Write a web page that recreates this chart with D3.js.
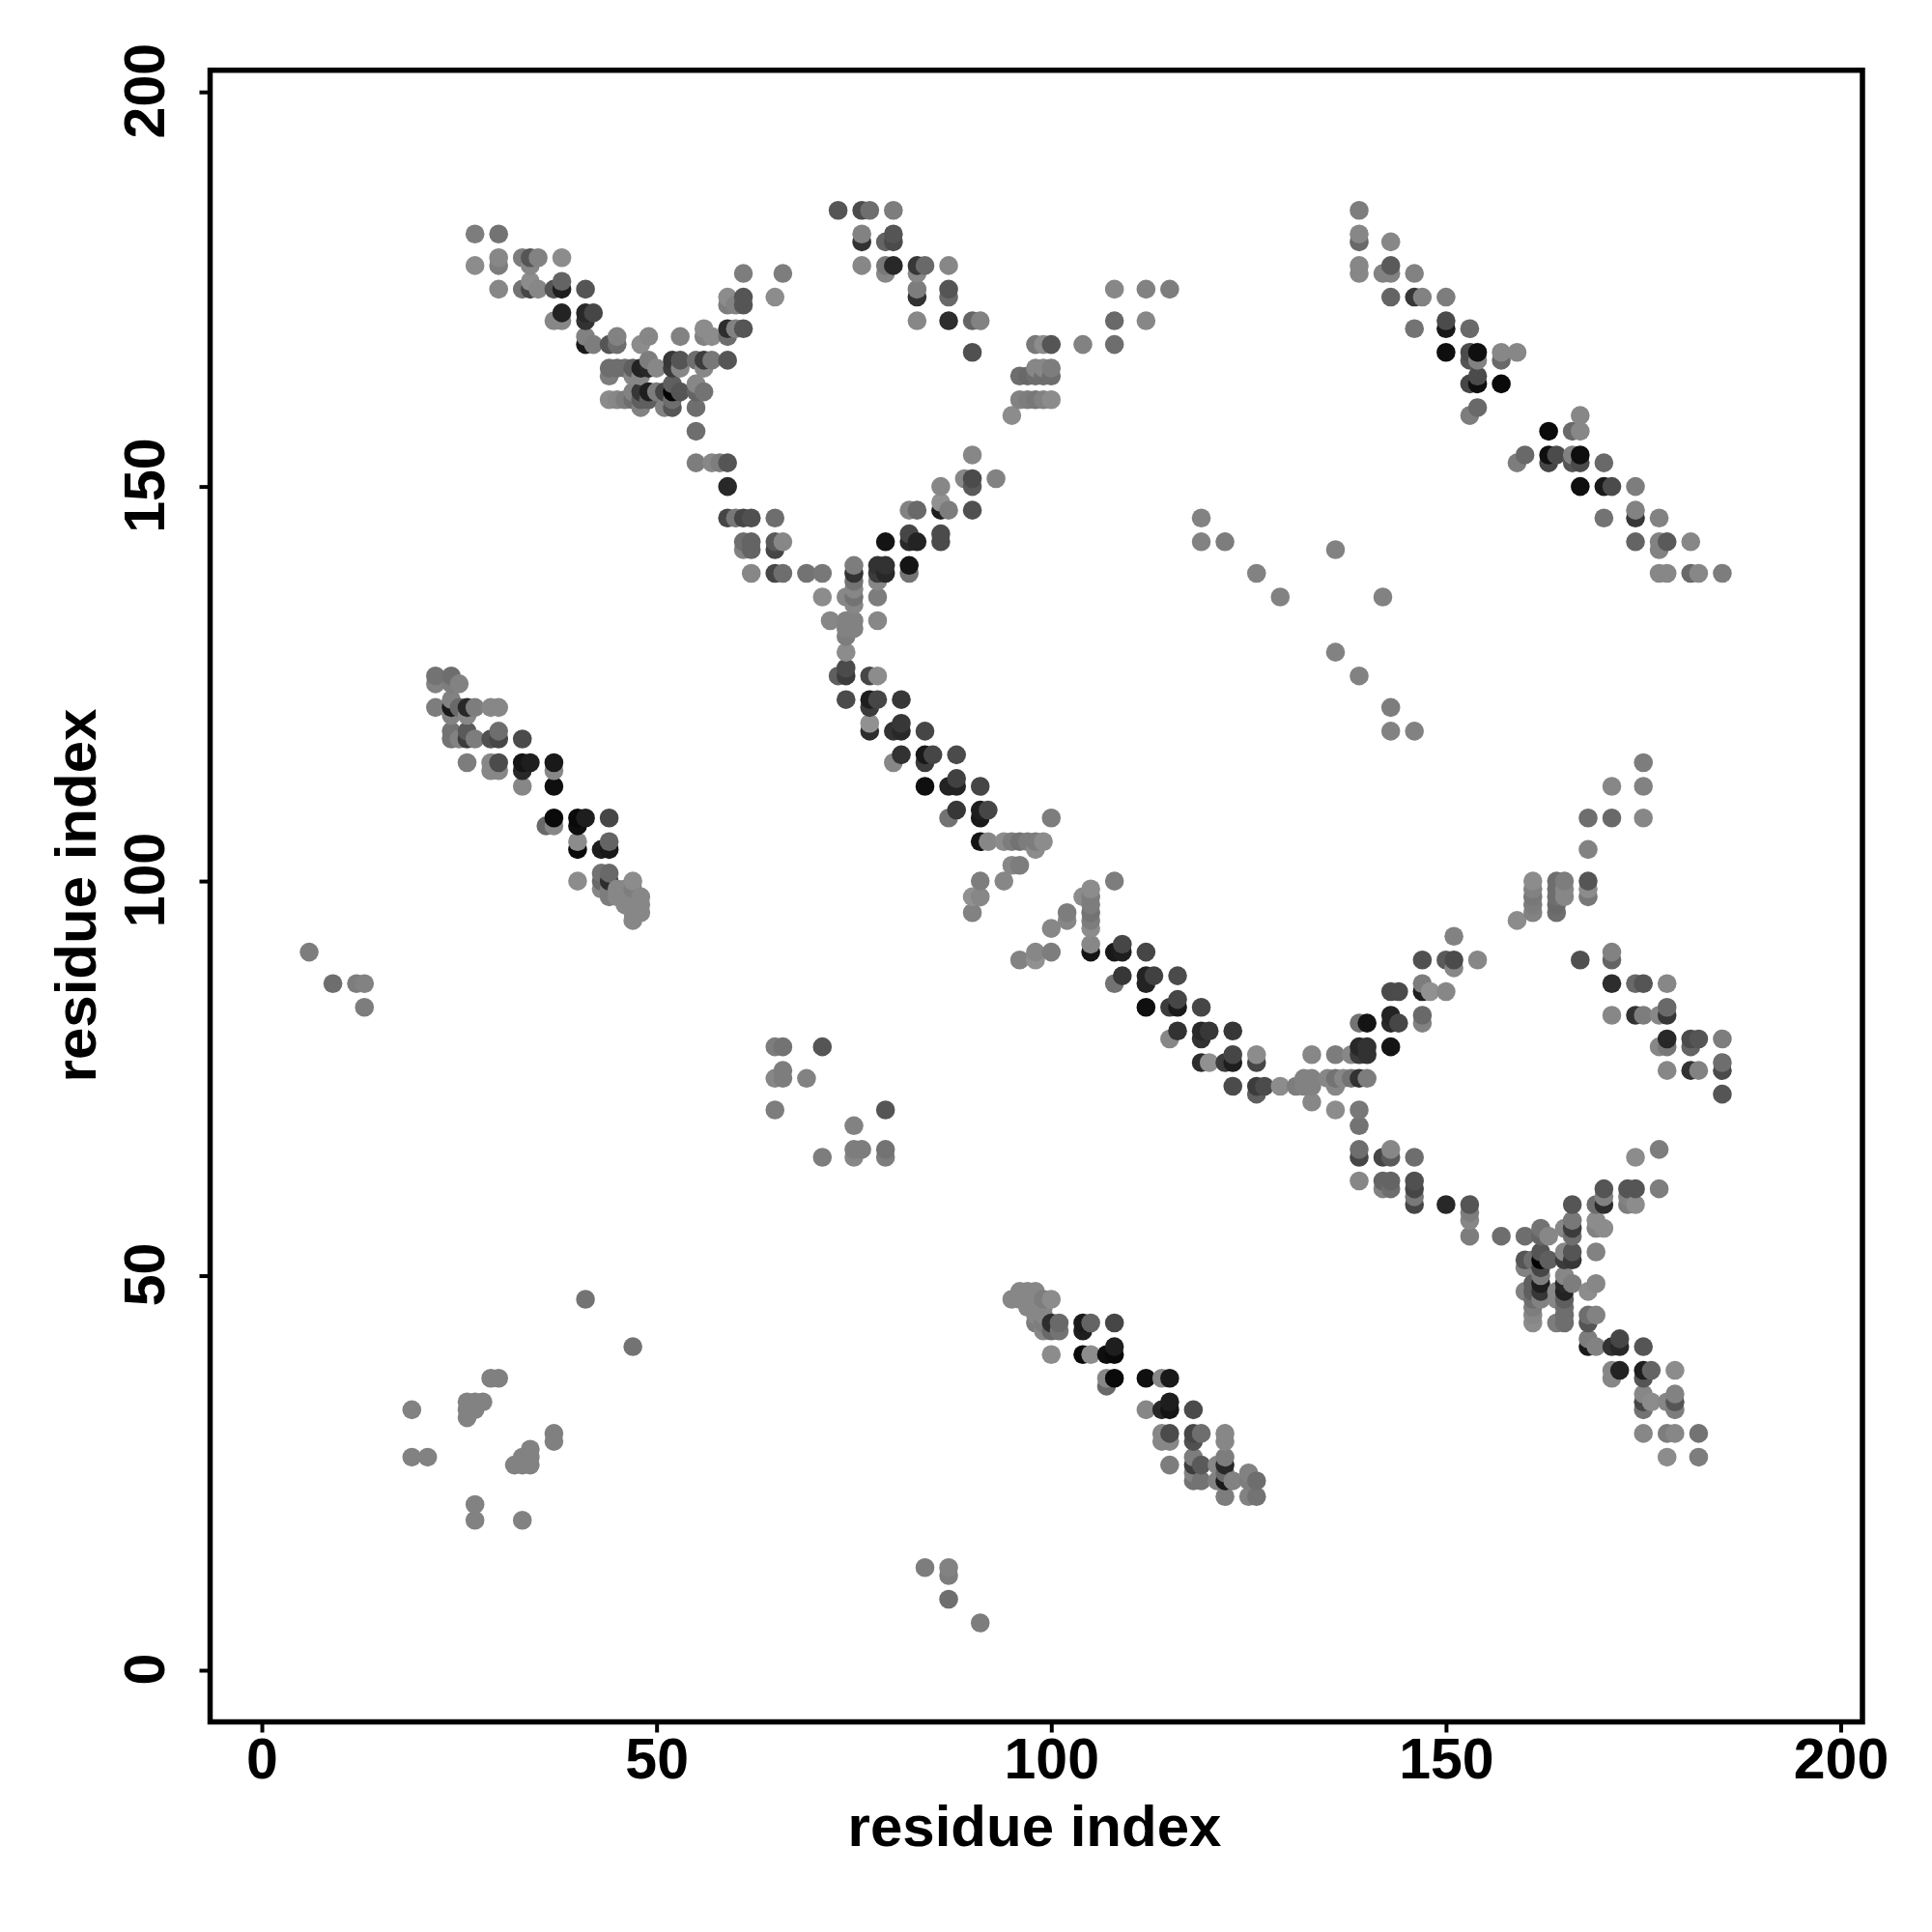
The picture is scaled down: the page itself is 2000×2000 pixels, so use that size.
<!DOCTYPE html>
<html>
<head>
<meta charset="utf-8">
<script src="https://cdn.jsdelivr.net/npm/d3@7"></script>
<style>
html,body{margin:0;padding:0;background:#fff}
svg{display:block}
text{font-family:"Liberation Sans",Arial,sans-serif;font-weight:700;fill:#000}
</style>
</head>
<body>
<svg id="chart" width="2000" height="2000"></svg>
<script>
// Each entry is [residue i, residue j, grey level] with i > j.
// The contact map is symmetric, so each entry also stands for its mirror pair (j, i).
const farContacts = [[91,6,125],[87,9,110],[87,12,125],[87,13,130],[84,13,125]];
const smallLoop = [[47,41,115],[33,19,130],[27,19,130],[27,21,130],[37,29,128],[37,30,128],[34,26,130],[34,27,130],[34,28,130],[33,26,130],[33,27,130],[32,26,130]];
const midPatch = [[71,65,125],[75,69,130],[75,66,125],[75,65,135],[76,66,125],[79,71,85],[79,66,115],[79,65,125]];
const sparsePatch = [[146,119,130],[143,119,130],[143,122,125],[139,126,130],[136,129,130],[142,136,130]];
const sheetA = [[95,47,135],[96,48,135],[97,48,135],[98,48,135],[96,47,135],[97,47,135],[98,47,135],[99,47,125],[100,47,140],
 [97,46,135],[98,46,135],[99,46,135],[98,45,135],[99,45,135],[98,44,125],[99,44,125],[100,44,45],[101,44,105],[99,43,135],[100,43,105],[101,43,115],
 [104,44,25],[105,44,100],[108,44,70],[104,43,30],[100,40,140],[104,40,10],[105,40,140],[107,40,15],[108,41,30],[108,40,10],
 [107,37,135],[108,37,10],[107,36,105],[112,37,15],[114,37,135],[115,37,25],[112,33,135],[114,33,40],[115,34,30],[115,33,20],[118,33,75],
 [114,30,135],[115,30,75],[114,29,135],[115,29,135],[118,30,70],[119,30,110],[118,29,80],[122,30,135],[122,29,135],
 [115,26,125],[118,27,125],[118,26,60],[119,26,90],[118,25,130],[118,24,115],[119,24,115],[121,26,135],[122,27,125],[122,26,40],[122,25,105],[122,24,25],[121,24,130],[123,24,130],[122,22,125],
 [125,25,130],[126,24,110],[125,24,125],[125,22,130],[126,22,115]];
const strandOne = [[96,90,130],[98,91,135],[98,90,145],[100,91,125],[100,94,135],[102,96,125],[102,95,135],[104,98,140],[105,99,140],[105,98,125],[105,97,125],[105,96,115],[105,95,125],[105,94,140],[105,92,135],[105,91,20],
 [108,100,125],[108,91,25],[109,91,30],[109,92,70],[112,91,70],[108,87,115],[109,88,55],[112,88,35],[112,87,35],[113,88,65],[116,88,75],[112,84,15],[115,84,60],[116,84,25],[116,85,70],[119,84,70],
 [115,80,135],[116,81,50],[119,81,40],[119,80,50],[120,81,55],[123,81,55],[119,77,45],[120,77,145],[122,77,60],[123,78,70],[123,77,30],[126,78,140],[126,77,70],[123,74,75],[126,74,60],[126,73,95],[127,74,75],[129,74,140]];
const strandTwo = [[131,74,125],[132,74,130],[133,74,130],[136,74,135],[132,75,130],[133,75,130],[135,75,135],[136,75,115],[137,75,135],[138,75,115],[139,75,50],[140,75,125],
 [133,72,135],[136,71,140],[139,71,120],[139,69,115],[133,78,135],[136,78,125],[138,78,135],[139,78,60],[140,78,50],[139,79,40],[140,79,50],[143,79,20],
 [139,82,115],[140,82,20],[143,82,40],[144,82,70],[147,82,130],[143,83,35],[147,83,105],[143,86,75],[144,86,75],[147,86,30],[148,86,145],[150,86,135],[147,87,125],
 [147,90,80],[150,90,90],[151,90,75],[154,90,135],[151,89,135],[151,93,130],[159,95,140],
 [161,100,140],[161,99,130],[161,98,120],[161,97,125],[161,96,130],[164,100,110],[164,99,110],[164,98,110],[164,97,105],[164,96,110],[165,100,125],[165,99,135],[165,98,135],
 [168,100,85],[168,99,140],[168,98,120],[168,104,130],[168,108,110],[171,108,105],[175,108,135],[171,112,135],[175,112,130],[175,115,125]];
const sheetC = [[167,90,80],[171,91,130],[171,90,100],[171,87,45],[174,87,105],[175,87,85],[178,87,135],[171,83,135],[174,83,50],[175,83,125],[177,83,135],[178,84,105],[178,83,55],
 [178,80,40],[177,79,135],[178,79,120],[181,80,75],[182,80,85],[181,79,100],[185,80,125],[178,76,135],[181,76,50],[182,76,130],[185,77,110],[185,76,75],[185,73,85]];
const sheetB = [[139,66,110],[139,65,70],[142,65,70],[143,66,135],[143,65,90],[146,65,110],[139,62,135],[142,62,100],[143,62,100],[142,61,130],[143,61,110],[146,62,80],[146,61,70],[146,60,120],[146,59,70],[150,59,40],[153,59,85],[153,58,125],[153,57,135],[153,55,125],[157,55,110],[160,55,110],[162,56,115],[162,55,100],[163,55,135],
 [160,52,85],[160,51,130],[161,52,110],[162,53,85],[162,52,5],[162,51,70],[162,50,125],[163,52,95],[160,48,130],[161,49,95],[161,48,95],[161,47,110],[161,46,125],[161,45,135],[161,44,140],[162,49,30],[162,48,55],[162,47,130],
 [165,53,135],[166,53,85],[165,52,60],[166,52,55],[165,56,135],[166,57,120],[166,56,60],[166,55,110],[166,59,85],[165,50,135],[166,49,125],[165,49,40],[165,48,35],[165,47,95],[165,46,110],[165,45,110],[165,44,110],[164,44,125],[164,48,135],[164,47,135],
 [169,56,130],[169,57,140],[170,56,140],[169,59,110],[170,61,85],[170,60,130],[170,59,45],[169,53,130],[169,49,135],[168,48,140],[173,61,85],[174,61,85],[173,59,125],[174,59,140],[173,60,130],[177,61,125],[174,65,140],[177,66,125],[168,45,110],[168,44,85],[169,45,130],[168,42,125],[168,41,25],[169,41,130],
 [171,41,50],[172,42,70],[172,41,40],[175,41,85],[171,38,135],[172,38,35],[171,37,135],[175,38,30],[175,37,85],[176,38,100],[179,38,140],[175,35,135],[176,34,140],[175,34,70],[175,33,115],[178,34,135],[179,35,130],[179,34,85],[179,33,125],[175,30,135],[178,30,125],[179,30,135],[182,30,115],[178,27,140],[182,27,125]];
const sheetD = [[185,139,125],[182,139,135],[181,139,105],[178,139,135],[177,139,135],[181,143,135],[178,143,90],[177,143,130],[174,143,100],[177,142,130],[177,146,130],[174,146,55],[170,146,115],[174,147,130],[174,150,125],[171,150,75],[170,150,25],[167,150,15],[170,153,105],[167,153,75],[166,153,85],[163,153,70],[159,153,125],[167,154,15],[166,154,130],[164,154,75],[163,154,15],[160,154,105],[167,157,135],[166,157,105],[163,157,10],[167,159,135]];

const tickValues = [0, 50, 100, 150, 200];
const axisTitle = "residue index";
const axisLimits = [-6.55, 202.75];

const svg = d3.select("#chart");
const frame = {left: 217.5, right: 1928, top: 72.7, bottom: 1782.5};
const x = d3.scaleLinear().domain(axisLimits).range([frame.left, frame.right]);
const y = d3.scaleLinear().domain(axisLimits).range([frame.bottom, frame.top]);

const halfMap = [].concat(farContacts, smallLoop, midPatch, sparsePatch, sheetA, strandOne, strandTwo, sheetC, sheetB, sheetD);
const contacts = halfMap.flatMap(([i, j, g]) => [{i: i, j: j, g: g}, {i: j, j: i, g: g}])
  .sort((a, b) => d3.ascending(a.i, b.i) || d3.ascending(a.j, b.j));

svg.append("g").selectAll("circle").data(contacts).join("circle")
  .attr("cx", d => x(d.i))
  .attr("cy", d => y(d.j))
  .attr("r", 9.8)
  .attr("fill", d => d3.rgb(d.g, d.g, d.g));

svg.append("rect")
  .attr("x", frame.left).attr("y", frame.top)
  .attr("width", frame.right - frame.left).attr("height", frame.bottom - frame.top)
  .attr("fill", "none").attr("stroke", "#000").attr("stroke-width", 5.5);

const xAxis = svg.append("g").attr("transform", `translate(0,${frame.bottom})`)
  .call(d3.axisBottom(x).tickValues(tickValues).tickSize(11).tickPadding(0).tickFormat(d3.format("d")));
const yAxis = svg.append("g").attr("transform", `translate(${frame.left},0)`)
  .call(d3.axisLeft(y).tickValues(tickValues).tickSize(11).tickPadding(0).tickFormat(d3.format("d")));
[xAxis, yAxis].forEach(a => {
  a.select(".domain").remove();
  a.selectAll(".tick line").attr("stroke", "#000").attr("stroke-width", 4);
  a.selectAll(".tick text").attr("font-size", 59).attr("fill", "#000").attr("font-family", null);
});
xAxis.selectAll(".tick text").attr("dy", null).attr("y", 58).attr("text-anchor", "middle");
yAxis.selectAll(".tick text").attr("dy", null).attr("x", null)
  .attr("text-anchor", "middle").attr("transform", "translate(-48,-1.5) rotate(-90)");

svg.append("text").attr("x", 1071).attr("y", 1911).attr("text-anchor", "middle")
  .attr("font-size", 60).text(axisTitle);
svg.append("text").attr("transform", "translate(99,927) rotate(-90)").attr("text-anchor", "middle")
  .attr("font-size", 60).text(axisTitle);
</script>
</body>
</html>
